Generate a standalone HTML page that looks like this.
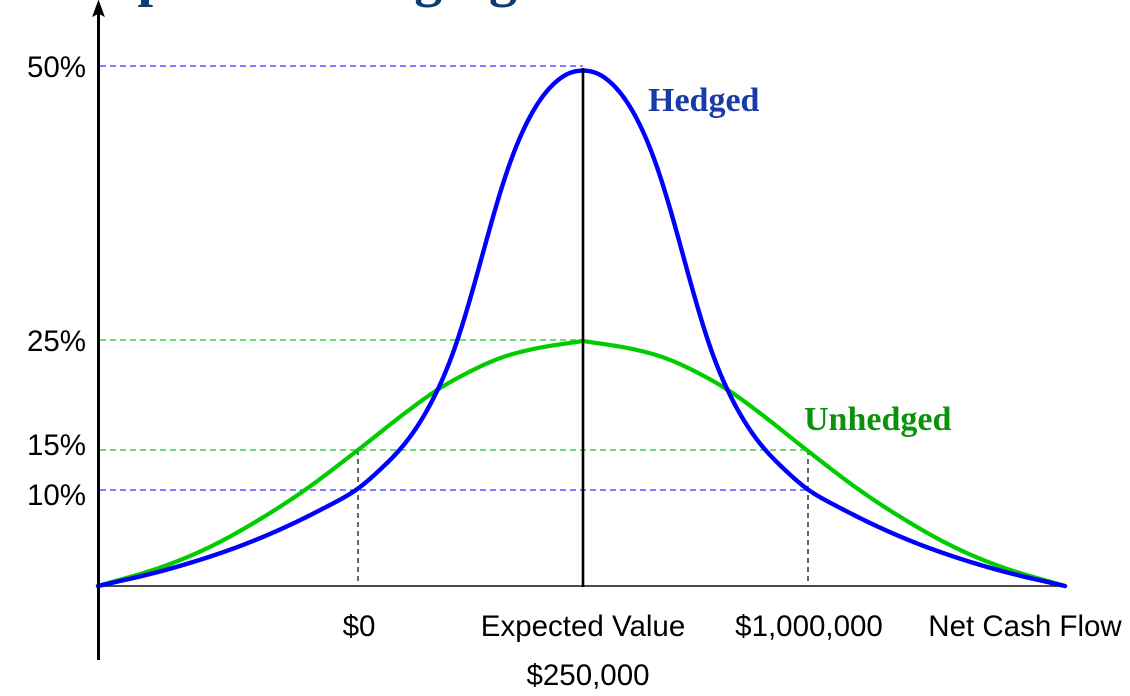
<!DOCTYPE html>
<html>
<head>
<meta charset="utf-8">
<style>
html,body{margin:0;padding:0;background:#fff;}
svg{display:block;}
</style>
</head>
<body>
<svg width="1130" height="696" viewBox="0 0 1130 696" xmlns="http://www.w3.org/2000/svg">
  <!-- clipped title -->
  <text x="69" y="-5" font-family="Liberation Serif, serif" font-weight="bold" font-size="56" fill="#0d3c73">Impact of Hedging</text>

  <!-- dashed reference lines -->
  <g stroke-width="1.6" stroke-dasharray="6,4" fill="none">
    <line x1="100" y1="66" x2="583" y2="66" stroke="#5555ff"/>
    <line x1="100" y1="340" x2="583" y2="340" stroke="#44cc44"/>
    <line x1="100" y1="450" x2="808" y2="450" stroke="#44cc44"/>
    <line x1="100" y1="490" x2="808" y2="490" stroke="#5555ff"/>
  </g>
  <g stroke="#000" stroke-width="1.2" stroke-dasharray="5,4" fill="none">
    <line x1="358" y1="450" x2="358" y2="586"/>
    <line x1="808" y1="450" x2="808" y2="586"/>
  </g>

  <!-- x axis -->
  <line x1="98" y1="586" x2="1066" y2="586" stroke="#333" stroke-width="1.8"/>

  <!-- green unhedged curve -->
  <polyline id="g1" fill="none" stroke="#00cc00" stroke-width="4.2" stroke-linejoin="round" stroke-linecap="round"
    points="98,587 125,577 150,567 175,555 200,541 225,528 250,516 275,503 300,490 330,471 358,450 380,434 400,419 420,404 437,392 460,378 480,368 505,358 530,351 555,346 583,340 611,346 636,351 661,358 686,368 706,378 729,392 746,404 766,419 786,434 808,450 836,471 866,490 891,503 916,516 941,528 966,541 991,555 1016,567 1041,577 1065,587"/>

  <!-- blue hedged curve -->
  <polyline id="b1" fill="none" stroke="#0000ff" stroke-width="4.4" stroke-linejoin="round" stroke-linecap="round"
    points="98,586 125,580 150,573 175,565 200,557 225,549 250,540 275,529 300,517 330,503 358,488 380,472 400,450 418,425 433,398 445,372 458,340 470,302 480,268 490,225 500,185 510,155 520,128 533,106 547,90 560,78 572,71 583,69 594,71 606,78 619,90 633,106 646,128 656,155 666,185 676,225 686,268 696,302 708,340 721,372 733,398 748,425 766,450 786,472 808,488 836,503 866,517 891,529 916,540 941,549 966,557 991,565 1016,573 1041,580 1065,586"/>

  <!-- expected value line -->
  <line x1="583" y1="68" x2="583" y2="587" stroke="#000" stroke-width="2.6"/>

  <!-- y axis with arrow -->
  <line x1="98.5" y1="10" x2="98.5" y2="660" stroke="#000" stroke-width="3"/>
  <path d="M98.5,1 L104,16 L98.5,13 L93,16 Z" fill="#000" stroke="#000" stroke-width="1" stroke-linejoin="miter"/>

  <!-- y labels -->
  <g font-family="Liberation Sans, Arial, sans-serif" font-size="29.5" fill="#000" text-anchor="end">
    <text x="86" y="77">50%</text>
    <text x="86" y="351">25%</text>
    <text x="86" y="455">15%</text>
    <text x="86" y="505">10%</text>
  </g>

  <!-- x labels -->
  <g font-family="Liberation Sans, Arial, sans-serif" font-size="29.5" fill="#000" text-anchor="middle">
    <text x="359" y="636">$0</text>
    <text x="583" y="636">Expected Value</text>
    <text x="588" y="685">$250,000</text>
    <text x="809" y="636">$1,000,000</text>
    <text x="1025" y="636">Net Cash Flow</text>
  </g>

  <!-- series labels -->
  <text x="648" y="111" font-family="Liberation Serif, serif" font-weight="bold" font-size="34" fill="#1a3aa8">Hedged</text>
  <text x="804" y="430" font-family="Liberation Serif, serif" font-weight="bold" font-size="34" fill="#0a920a">Unhedged</text>
</svg>
<script>
(function(){
  var ns="http://www.w3.org/2000/svg";
  function mono(ds,hs,t0){
    var n=ds.length,m=[],t=[],k;
    for(k=0;k<n-1;k++) m[k]=(hs[k+1]-hs[k])/(ds[k+1]-ds[k]);
    t[0]=(t0!==undefined)?t0:m[0];
    t[n-1]=m[n-2];
    for(k=1;k<n-1;k++) t[k]=(m[k-1]*m[k]<=0)?0:(m[k-1]+m[k])/2;
    for(k=0;k<n-1;k++){
      if(m[k]===0){t[k]=0;t[k+1]=0;continue;}
      var a=t[k]/m[k],b=t[k+1]/m[k],s=a*a+b*b;
      if(s>9){var tau=3/Math.sqrt(s);t[k]=tau*a*m[k];t[k+1]=tau*b*m[k];}
    }
    return function(d){
      var k=0; while(k<n-2 && d>ds[k+1]) k++;
      var h=ds[k+1]-ds[k],u=(d-ds[k])/h,u2=u*u,u3=u2*u;
      return (2*u3-3*u2+1)*hs[k]+(u3-2*u2+u)*h*t[k]+(-2*u3+3*u2)*hs[k+1]+(u3-u2)*h*t[k+1];
    };
  }
  function build(id,ds,hs,t0,symmetricPeak,sigma){
    var pl=document.getElementById(id);
    var f=mono(ds,hs,t0),d;
    var dmax=ds[ds.length-1];
    var endSlope=(hs[hs.length-1]-hs[hs.length-2])/(ds[ds.length-1]-ds[ds.length-2]);
    var f0=f(0);
    function ext(x){
      if(x<0){ return symmetricPeak ? f(-x) : 2*f0-f(-x); }
      if(x>dmax){ return f(dmax)+(x-dmax)*endSlope; }
      return f(x);
    }
    var R=Math.ceil(sigma*3),w=[],ws=0,j;
    for(j=-R;j<=R;j++){var v=Math.exp(-j*j/(2*sigma*sigma));w.push(v);ws+=v;}
    var sm=[];
    for(d=0;d<=dmax;d++){
      var acc=0;
      for(j=-R;j<=R;j++) acc+=w[j+R]*ext(d+j);
      sm[d]=acc/ws;
    }
    // pin endpoints
    var shift=sm[dmax];
    for(d=0;d<=dmax;d++) sm[d]-=shift*(d/dmax);
    var pts=[];
    for(d=dmax;d>=0;d-=1) pts.push((583-d).toFixed(2)+","+(586-sm[d]).toFixed(2));
    for(d=1;d<=dmax;d+=1) pts.push((583+d*482/485).toFixed(2)+","+(586-sm[d]).toFixed(2));
    var path=document.createElementNS(ns,"path");
    path.setAttribute("d","M"+pts.join(" L"));
    ["fill","stroke","stroke-width","stroke-linejoin","stroke-linecap"].forEach(function(a){path.setAttribute(a,pl.getAttribute(a));});
    pl.parentNode.replaceChild(path,pl);
  }
  build("g1",[0,50,83,116,146,178,225,278,321,371,421,485],
             [245,237,228,213,196,173,136,96,68,40,19,0],undefined,false,7);
  build("b1",[0,16,36,50,66,76,86,93,103,113,125,136,146,163,183,198,225,255,305,355,421,485],
             [516,513,496,476,443,416,384,359,322,286,246,216,194,163,136,121,97,80,55.5,35.5,15,0],0,true,8);
})();
</script>
</body>
</html>
